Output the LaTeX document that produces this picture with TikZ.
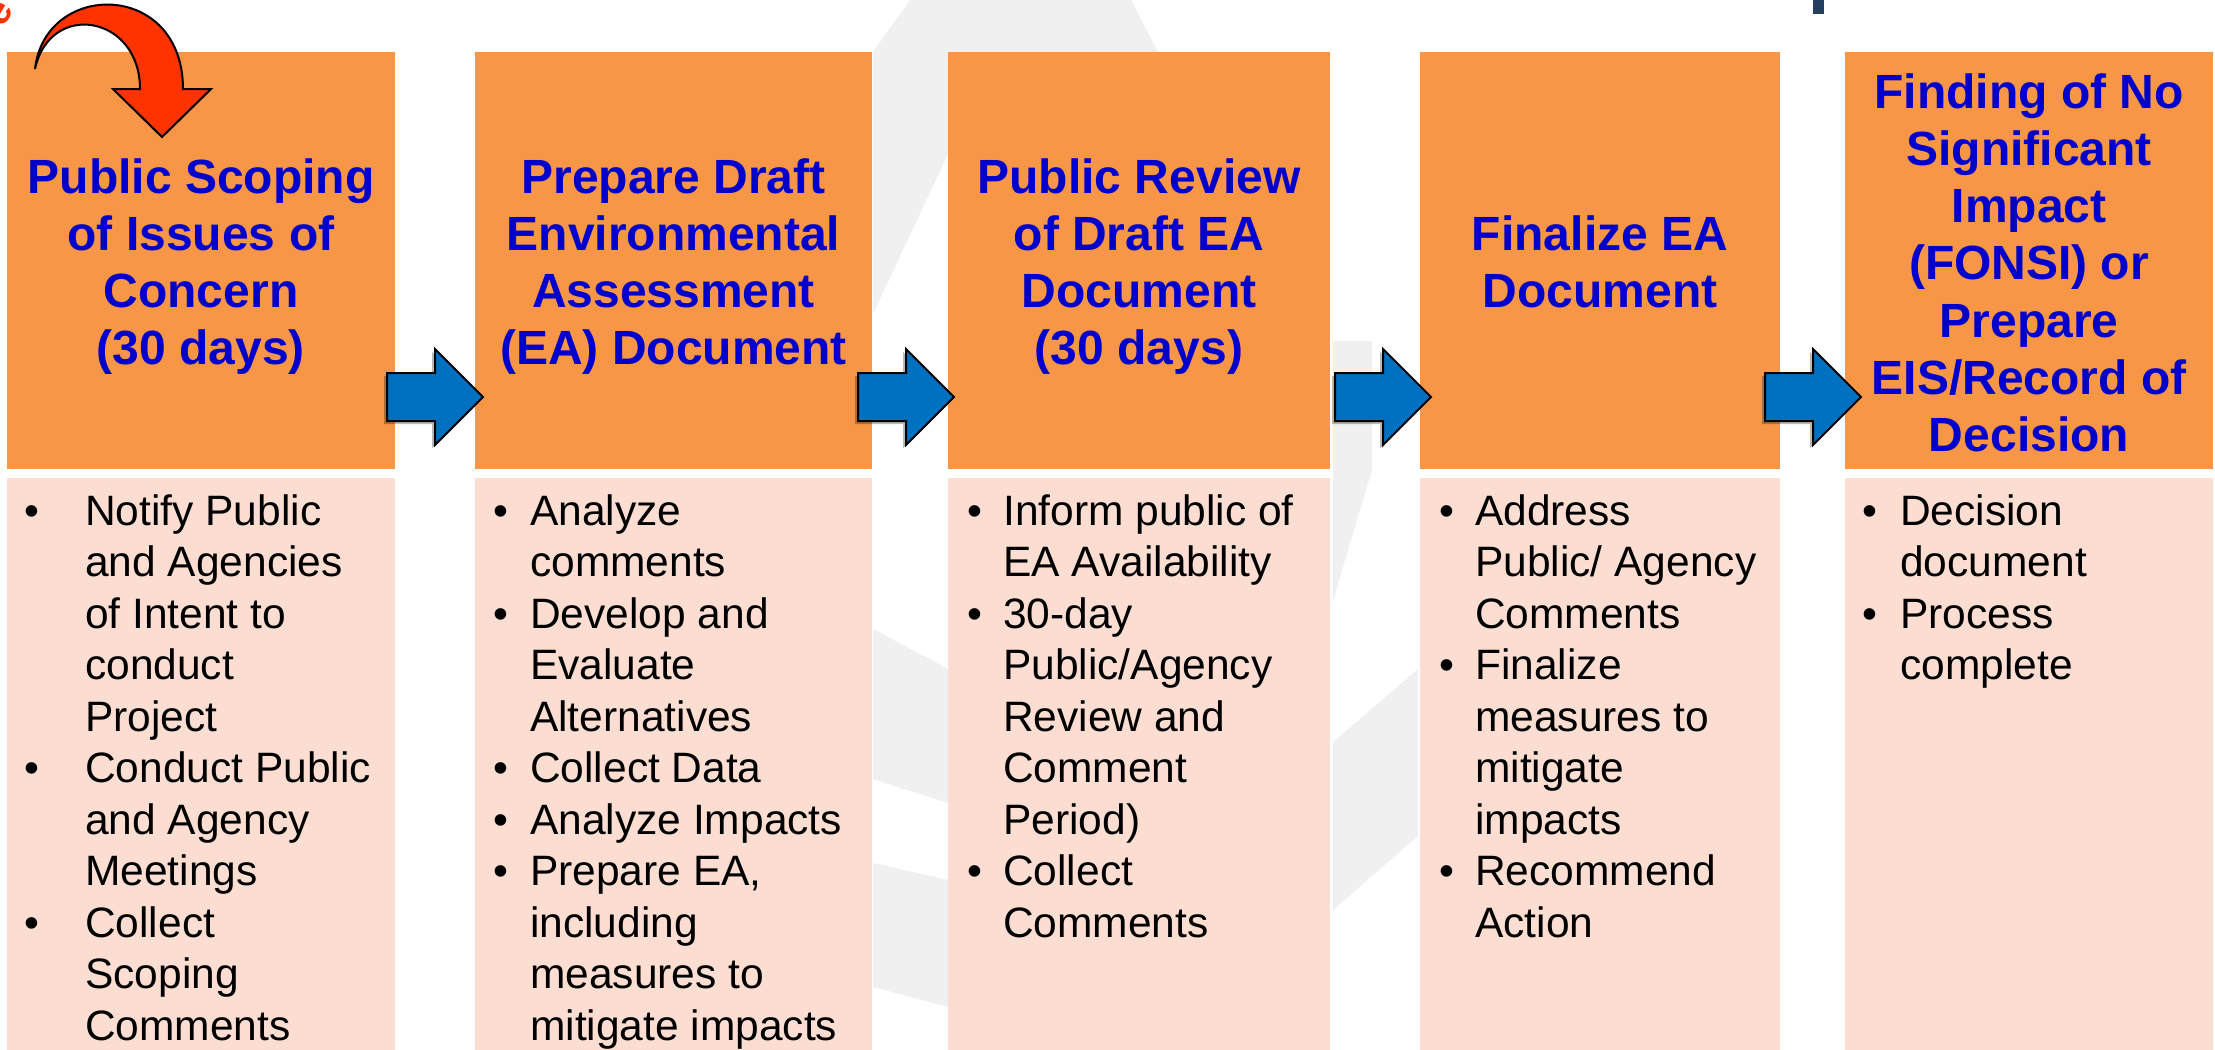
\documentclass[tikz,border=0pt]{standalone}
\usepackage{fontspec}
\setmainfont{Liberation Sans}
\definecolor{hdr}{HTML}{F79646}
\definecolor{bdy}{HTML}{FCDDD1}
\definecolor{ttl}{HTML}{0000CC}
\definecolor{arrblue}{HTML}{0070C0}
\definecolor{redarr}{HTML}{FF3300}
\definecolor{wmark}{HTML}{F0F0F0}
\definecolor{darkbar}{HTML}{243F60}
\newcommand\blockarrowpath[1]{(#1,373) -- ++(48,0) -- ++(0,-24) -- ++(48,48) -- ++(-48,48) -- ++(0,-24) -- ++(-48,0) -- cycle}
\begin{document}
\begin{tikzpicture}[x=1pt,y=-1pt,
  hdrbox/.style={fill=hdr,draw=none,inner sep=0pt,minimum height=417pt,anchor=north west},
  bdybox/.style={fill=bdy,draw=none,inner sep=0pt,minimum height=590pt,anchor=north west},
  htxt/.style={font=\fontsize{48}{57}\selectfont\bfseries,text=ttl,inner sep=0pt,anchor=base},
  btxt/.style={font=\fontsize{42.5}{51.5}\selectfont,text=black,inner sep=0pt,anchor=base west},
  bul/.style={font=\fontsize{42.5}{51.5}\selectfont,text=black,inner sep=0pt,anchor=base},
  blockarrow/.style={fill=arrblue,draw=black,line width=2pt,line join=miter},
  arrowshadow/.style={fill=black,opacity=0.28},
]
\useasboundingbox (0,0) rectangle (2215,1049);
\clip (0,0) rectangle (2215,1049);
\fill[white] (0,0) rectangle (2215,1049);

% faint watermark pieces
\fill[wmark] (873,52) -- (910,0) -- (1131,0) -- (1158,52) -- cycle;
\fill[wmark] (873,52) -- (948,52) -- (948,154) -- (873,314) -- cycle;
\fill[wmark] (873,629) -- (948,669) -- (948,803) -- (873,779) -- cycle;
\fill[wmark] (873,863) -- (948,880) -- (948,1007) -- (873,987) -- cycle;
\fill[wmark] (1333,341) -- (1372,341) -- (1372,470) -- (1345,560) -- (1333,602) -- cycle;
\fill[wmark] (1333,742) -- (1418,669) -- (1418,836) -- (1333,910) -- cycle;

% dark bar top right
\fill[darkbar] (1813,0) rectangle (1824,14);

% header boxes
\node[hdrbox,minimum width=388pt] (h1) at (7,52) {};
\node[hdrbox,minimum width=397pt] (h2) at (475,52) {};
\node[hdrbox,minimum width=382pt] (h3) at (948,52) {};
\node[hdrbox,minimum width=360pt] (h4) at (1420,52) {};
\node[hdrbox,minimum width=368pt] (h5) at (1845,52) {};
% body boxes
\node[bdybox,minimum width=388pt] (b1) at (7,478) {};
\node[bdybox,minimum width=397pt] (b2) at (475,478) {};
\node[bdybox,minimum width=382pt] (b3) at (948,478) {};
\node[bdybox,minimum width=360pt] (b4) at (1420,478) {};
\node[bdybox,minimum width=368pt] (b5) at (1845,478) {};

% header texts
\node[htxt] (t1a) at (201,193) {Public Scoping};
\node[htxt] (t1b) at (201,250) {of Issues of};
\node[htxt] (t1c) at (201,307) {Concern};
\node[htxt] (t1d) at (201,364) {(30 days)};
\node[htxt] (t2a) at (673.5,193) {Prepare Draft};
\node[htxt] (t2b) at (673.5,250) {Environmental};
\node[htxt] (t2c) at (673.5,307) {Assessment};
\node[htxt] (t2d) at (673.5,364) {(EA) Document};
\node[htxt] (t3a) at (1139,193) {Public Review};
\node[htxt] (t3b) at (1139,250) {of Draft EA};
\node[htxt] (t3c) at (1139,307) {Document};
\node[htxt] (t3d) at (1139,364) {(30 days)};
\node[htxt] (t4a) at (1600,250) {Finalize EA};
\node[htxt] (t4b) at (1600,307) {Document};
\node[htxt] (t5a) at (2029,108) {Finding of No};
\node[htxt] (t5b) at (2029,165.3) {Significant};
\node[htxt] (t5c) at (2029,222.6) {Impact};
\node[htxt] (t5d) at (2029,279.9) {(FONSI) or};
\node[htxt] (t5e) at (2029,337.2) {Prepare};
\node[htxt] (t5f) at (2029,394.5) {EIS/Record of};
\node[htxt] (t5g) at (2029,451.8) {Decision};

% column 1 body
\node[bul] (u1a) at (32,525) {\textbullet};
\node[btxt] (l1a) at (85,525) {Notify Public};
\node[btxt] (l1b) at (85,576.5) {and Agencies};
\node[btxt] (l1c) at (85,628) {of Intent to};
\node[btxt] (l1d) at (85,679.5) {conduct};
\node[btxt] (l1e) at (85,731) {Project};
\node[bul] (u1b) at (32,782.5) {\textbullet};
\node[btxt] (l1f) at (85,782.5) {Conduct Public};
\node[btxt] (l1g) at (85,834) {and Agency};
\node[btxt] (l1h) at (85,885.5) {Meetings};
\node[bul] (u1c) at (32,937) {\textbullet};
\node[btxt] (l1i) at (85,937) {Collect};
\node[btxt] (l1j) at (85,988.5) {Scoping};
\node[btxt] (l1k) at (85,1040) {Comments};

% column 2 body
\node[bul] (u2a) at (501,525) {\textbullet};
\node[btxt] (l2a) at (530,525) {Analyze};
\node[btxt] (l2b) at (530,576.5) {comments};
\node[bul] (u2b) at (501,628) {\textbullet};
\node[btxt] (l2c) at (530,628) {Develop and};
\node[btxt] (l2d) at (530,679.5) {Evaluate};
\node[btxt] (l2e) at (530,731) {Alternatives};
\node[bul] (u2c) at (501,782.5) {\textbullet};
\node[btxt] (l2f) at (530,782.5) {Collect Data};
\node[bul] (u2d) at (501,834) {\textbullet};
\node[btxt] (l2g) at (530,834) {Analyze Impacts};
\node[bul] (u2e) at (501,885.5) {\textbullet};
\node[btxt] (l2h) at (530,885.5) {Prepare EA,};
\node[btxt] (l2i) at (530,937) {including};
\node[btxt] (l2j) at (530,988.5) {measures to};
\node[btxt] (l2k) at (530,1040) {mitigate impacts};

% column 3 body
\node[bul] (u3a) at (975,525) {\textbullet};
\node[btxt] (l3a) at (1003,525) {Inform public of};
\node[btxt] (l3b) at (1003,576.5) {EA Availability};
\node[bul] (u3b) at (975,628) {\textbullet};
\node[btxt] (l3c) at (1003,628) {30-day};
\node[btxt] (l3d) at (1003,679.5) {Public/Agency};
\node[btxt] (l3e) at (1003,731) {Review and};
\node[btxt] (l3f) at (1003,782.5) {Comment};
\node[btxt] (l3g) at (1003,834) {Period)};
\node[bul] (u3c) at (975,885.5) {\textbullet};
\node[btxt] (l3h) at (1003,885.5) {Collect};
\node[btxt] (l3i) at (1003,937) {Comments};

% column 4 body
\node[bul] (u4a) at (1447,525) {\textbullet};
\node[btxt] (l4a) at (1475,525) {Address};
\node[btxt] (l4b) at (1475,576.5) {Public/ Agency};
\node[btxt] (l4c) at (1475,628) {Comments};
\node[bul] (u4b) at (1447,679.5) {\textbullet};
\node[btxt] (l4d) at (1475,679.5) {Finalize};
\node[btxt] (l4e) at (1475,731) {measures to};
\node[btxt] (l4f) at (1475,782.5) {mitigate};
\node[btxt] (l4g) at (1475,834) {impacts};
\node[bul] (u4c) at (1447,885.5) {\textbullet};
\node[btxt] (l4h) at (1475,885.5) {Recommend};
\node[btxt] (l4i) at (1475,937) {Action};

% column 5 body
\node[bul] (u5a) at (1870,525) {\textbullet};
\node[btxt] (l5a) at (1900,525) {Decision};
\node[btxt] (l5b) at (1900,576.5) {document};
\node[bul] (u5b) at (1870,628) {\textbullet};
\node[btxt] (l5c) at (1900,628) {Process};
\node[btxt] (l5d) at (1900,679.5) {complete};

% blue block arrows with shadows
\foreach \ax in {387,858,1335,1765}{
  \fill[arrowshadow,xshift=-3pt,yshift=-3pt] \blockarrowpath{\ax};
  \draw[blockarrow] \blockarrowpath{\ax};
}

% red curved arrow
\draw[fill=redarr,draw=black,line width=2pt,line join=miter]
  (35,69) .. controls (45,-20) and (183,-20) .. (183,89)
  -- (211,89) -- (162,137) -- (113,89) -- (140,89)
  .. controls (140,15) and (50,0) .. (35,69) -- cycle;

% clipped red text fragment at top-left corner
\node[font=\fontsize{40}{40}\selectfont\bfseries,text=redarr,inner sep=0pt,rotate=60] (frag) at (0,14) {e};
\end{tikzpicture}
\end{document}
